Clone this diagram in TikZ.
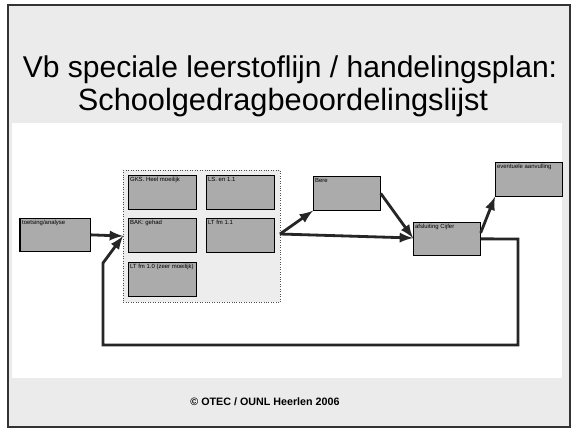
\documentclass[tikz,border=0pt]{standalone}
\usepackage{fontspec}
\setmainfont{Liberation Sans}

\begin{document}
\begin{tikzpicture}[x=0.02cm, y=-0.02cm, >=latex]
				\tikzstyle{every node}=[inner sep=1pt, align=left]
				\tikzstyle{box}=[draw=black, fill=black!33, minimum width=1.36cm, minimum height=0.68cm, anchor=north west, inner sep=0pt]
				\tikzstyle{boxtext}=[font=\fontsize{3.4}{4}\selectfont, anchor=north west, inner sep=1pt]
				\tikzstyle{flow}=[line width=1.6pt, black!85]
				\useasboundingbox (0, 0) rectangle (572, 430);
				% slide background
				\fill [black!8] (8, 5) rectangle (570, 427);
				\fill [white] (12, 123) rectangle (562, 378);
				\draw [line width=1pt, black!80] (8, 5) rectangle (570, 427);
				\node (T1) at (290, 70) {\fontsize{17.1}{20}\selectfont Vb speciale leerstoflijn / handelingsplan:};
				\node (T2) at (283, 103) {\fontsize{17.5}{20}\selectfont Schoolgedragbeoordelingslijst};
				\node (F) at (265, 402) {\fontsize{6.1}{7}\selectfont\bfseries \textcopyright\ OTEC / OUNL Heerlen 2006};
				% group of subject boxes
				\node (G) [draw=black!70, densely dotted, fill=black!7, anchor=north west, minimum width=3.14cm, minimum height=2.64cm, inner sep=0pt] at (123, 170) {};
				\node (A) [box] at (128, 175) {};
				\node [boxtext] at (A.north west) {GKS. Heel moeilijk};
				\node (B) [box] at (206, 175) {};
				\node [boxtext] at (B.north west) {LS. en 1.1};
				\node (C) [box] at (128, 218) {};
				\node [boxtext] at (C.north west) {BAK: gehad};
				\node (D) [box] at (206, 218) {};
				\node [boxtext] at (D.north west) {LT fm 1.1};
				\node (E) [box] at (128, 262) {};
				\node [boxtext] at (E.north west) {LT fm 1.0 (zeer moeilijk)};
				% steps
				\node (S) [box, minimum width=1.4cm, minimum height=0.66cm] at (20, 218) {};
				\node [boxtext] at (S.north west) {toetsing/analyse};
				\draw [line width=1.6pt] (S.north west) -- (S.south west);
				\node (R) [box, minimum width=1.34cm] at (313, 176) {};
				\node [boxtext] at (R.north west) {Bere};
				\node (K) [box, minimum width=1.34cm, minimum height=0.66cm] at (413, 222) {};
				\node [boxtext] at (K.north west) {afsluiting Cijfer};
				\node (V) [box, minimum width=1.34cm] at (495, 162) {};
				\node [boxtext] at (V.north west) {eventuele aanvulling};
				% connectors
				\coordinate (Gin) at (123, 236);
				\coordinate (Gout) at (280, 234);
				\coordinate (Kin) at (413, 238);
				\coordinate (L1) at (518, 239);
				\coordinate (L2) at (518, 345);
				\coordinate (L3) at (103, 345);
				\coordinate (L4) at (103, 263);
				\draw [->, flow] (S.east) -- (Gin);
				\draw [->, flow] (Gout) -- (R.south west);
				\draw [->, flow] (Gout) -- (Kin);
				\draw [->, flow] (R.east) -- (Kin);
				\draw [->, flow] (K.east) ++(0, -6) -- (V.south west);
				\draw [->, flow] (K.east) -- (L1) -- (L2) -- (L3) -- (L4) -- (Gin);
		\end{tikzpicture}
\end{document}
